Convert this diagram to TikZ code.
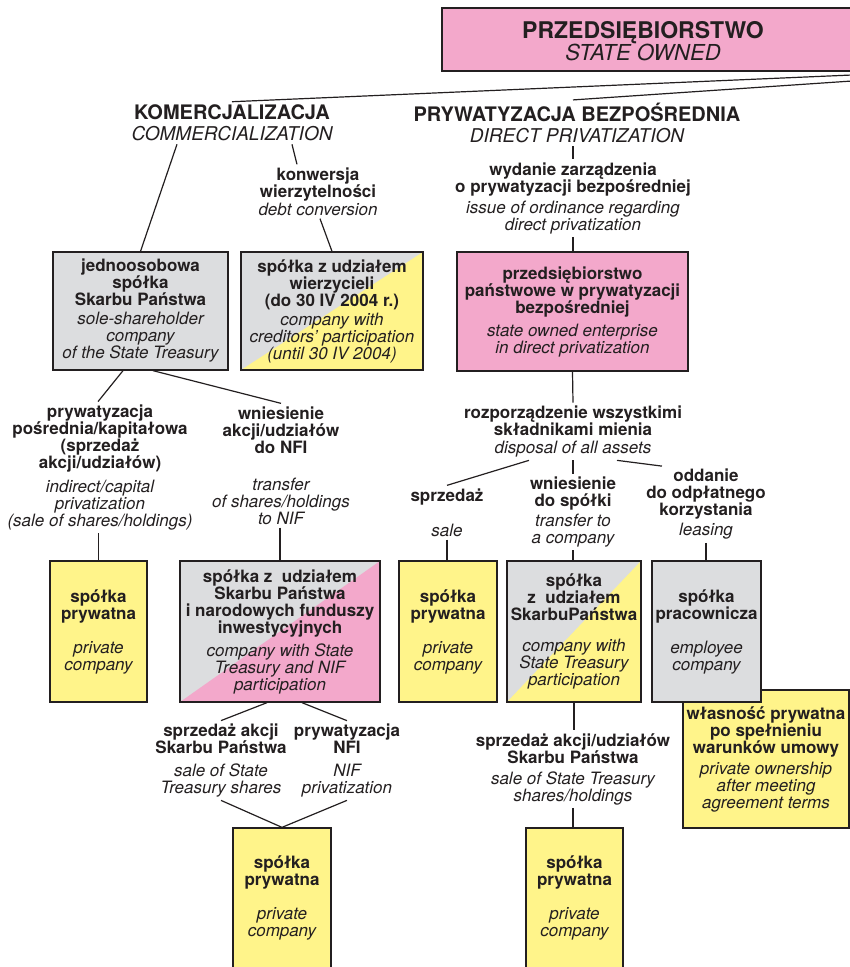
\documentclass[tikz,border=0pt]{standalone}
\usepackage{fontspec}
\setmainfont{TeX Gyre Heros}
\definecolor{ink}{HTML}{231F20}
\definecolor{rozowy}{HTML}{F3A8CB}
\definecolor{zolty}{HTML}{FFF48A}
\definecolor{szary}{HTML}{DCDDDF}
\newcommand{\engl}{\mdseries\itshape}
\newcommand{\engt}{\fontsize{19}{21}\selectfont\mdseries\itshape}
\begin{document}
\begin{tikzpicture}[x=1pt, y=-1pt,
    ramka/.style={draw=ink, line width=1.3pt, inner sep=0pt, align=center, text=ink,
      font=\fontsize{17}{17}\selectfont\bfseries},
    opis/.style={inner sep=3pt, align=center, text=ink, font=\fontsize{17}{17}\selectfont\bfseries},
    tytul/.style={inner sep=3pt, align=center, text=ink, font=\fontsize{20}{21}\selectfont\bfseries},
    linia/.style={draw=ink, line width=1.2pt},
    pol/.style={path picture={\fill[#1] (path picture bounding box.south west) --
      (path picture bounding box.north east) -- (path picture bounding box.south east) -- cycle;}}]
  \useasboundingbox (0,0) rectangle (850,967);
  \clip (0,0) rectangle (850,967);
  % Przedsiebiorstwo
  \node[ramka, fill=rozowy, minimum width=428, minimum height=63] (prz) at (656,39.5) {};
  \node[tytul, font=\fontsize{23}{22}\selectfont\bfseries] (przt) at (643,41) {PRZEDSIĘBIORSTWO\\\fontsize{22}{22}\selectfont\engl STATE OWNED};
  % Komercjalizacja
  \node[tytul] (kom) at (232,123) {KOMERCJALIZACJA\\\engt COMMERCIALIZATION};
  \node[opis] (kon) at (318,191.5) {konwersja\\wierzytelności\\[1pt]\engl debt conversion};
  \node[ramka, fill=szary, minimum width=175, minimum height=118] (jsp) at (140.5,311)
    {jednoosobowa\\spółka\\Skarbu Państwa\\[2pt]\engl sole-shareholder\\\engl company\\\engl of the State Treasury};
  \node[ramka, fill=szary, pol=zolty, minimum width=182, minimum height=118] (wie) at (332,311)
    {spółka z udziałem\\wierzycieli\\(do 30 IV 2004 r.)\\[2pt]\engl company with\\\engl creditors' participation\\\engl (until 30 IV 2004)};
  \node[opis] (prp) at (100,467.5) {prywatyzacja\\pośrednia/kapitałowa\\(sprzedaż\\akcji/udziałów)\\[7pt]\engl indirect/capital\\\engl privatization\\\engl (sale of shares/holdings)};
  \node[opis] (wnnfi) at (281,465.5) {wniesienie\\akcji/udziałów\\do NFI\\[20pt]\engl transfer\\\engl of shares/holdings\\\engl to NIF};
  \node[ramka, fill=zolty, minimum width=97, minimum height=141] (sp1) at (98.5,631.5)
    {spółka\\prywatna\\[17pt]\engl private\\\engl company};
  \node[ramka, fill=szary, pol=rozowy, minimum width=200, minimum height=141] (big) at (280,631.5)
    {spółka z~~udziałem\\Skarbu Państwa\\i narodowych funduszy\\inwestycyjnych\\[6pt]\engl company with State\\\engl Treasury and NIF\\\engl participation};
  \node[opis] (sak) at (221,760.5) {sprzedaż akcji\\Skarbu Państwa\\[6pt]\engl sale of State\\\engl Treasury shares};
  \node[opis] (pnfi) at (347,760.5) {prywatyzacja\\NFI\\[6pt]\engl NIF\\\engl privatization};
  \node[ramka, fill=zolty, minimum width=98, minimum height=140] (bp1) at (282,898)
    {spółka\\prywatna\\[17pt]\engl private\\\engl company};
  % Prywatyzacja bezposrednia
  \node[tytul] (prb) at (577,123) {PRYWATYZACJA BEZPOŚREDNIA\\\engt DIRECT PRIVATIZATION};
  \node[opis] (wyd) at (573,198) {wydanie zarządzenia\\o prywatyzacji bezpośredniej\\[4pt]\engl issue of ordinance regarding\\\engl direct privatization};
  \node[ramka, fill=rozowy, minimum width=231, minimum height=119] (pps) at (572.5,311.5)
    {przedsiębiorstwo\\państwowe w prywatyzacji\\bezpośredniej\\[6pt]\engl state owned enterprise\\\engl in direct privatization};
  \node[opis] (roz) at (573,431.5) {rozporządzenie wszystkimi\\składnikami mienia\\[1pt]\engl disposal of all assets};
  \node[opis] (sprz) at (447,512.5) {sprzedaż\\[18pt]\engl sale};
  \node[opis] (wnsp) at (573,512) {wniesienie\\do spółki\\[3pt]\engl transfer to\\\engl a company};
  \node[opis] (odd) at (706,504.5) {oddanie\\do odpłatnego\\korzystania\\[3pt]\engl leasing};
  \node[ramka, fill=zolty, minimum width=98, minimum height=141] (sp2) at (448,631.5)
    {spółka\\prywatna\\[17pt]\engl private\\\engl company};
  \node[ramka, fill=szary, pol=zolty, minimum width=134, minimum height=141] (ssp) at (574,631.5)
    {spółka\\z~~udziałem\\SkarbuPaństwa\\[14pt]\engl company with\\\engl State Treasury\\\engl participation};
  \node[ramka, fill=zolty, minimum width=166, minimum height=138] (wlas) at (766,759)
    {własność prywatna\\po spełnieniu\\warunków umowy\\[4pt]\engl private ownership\\\engl after meeting\\\engl agreement terms};
  \node[ramka, fill=szary, minimum width=109, minimum height=141] (prac) at (706.5,631.5)
    {spółka\\pracownicza\\[17pt]\engl employee\\\engl company};
  \node[opis] (sau) at (573,769) {sprzedaż akcji/udziałów\\Skarbu Państwa\\[4pt]\engl sale of State Treasury\\\engl shares/holdings};
  \node[ramka, fill=zolty, minimum width=97, minimum height=140] (bp2) at (574.5,898)
    {spółka\\prywatna\\[17pt]\engl private\\\engl company};
  % Polaczenia
  \coordinate (r1) at (852,75);
  \coordinate (r2) at (852,81);
  \draw[linia] (r1) -- (kom.north);
  \draw[linia] (r2) -- ([xshift=-4pt]prb.north);
  \draw[linia] ([xshift=-55pt]kom.south) -- (jsp.north);
  \draw[linia] ([xshift=60pt]kom.south) -- ([xshift=-21pt]kon.north);
  \draw[linia] ([xshift=2pt]kon.south) -- (wie.north);
  \draw[linia] ([xshift=-17.5pt]jsp.south) -- ([xshift=-2pt]prp.north);
  \draw[linia] ([xshift=12.5pt]jsp.south) -- (wnnfi.north);
  \draw[linia] (sp1.north |- prp.south) -- (sp1.north);
  \draw[linia] (big.north |- wnnfi.south) -- (big.north);
  \draw[linia] ([xshift=-13pt]big.south) -- (sak.north);
  \draw[linia] ([xshift=22pt]big.south) -- (pnfi.north);
  \draw[linia] (sak.south) -- (bp1.north);
  \draw[linia] (pnfi.south) -- (bp1.north);
  \draw[linia] (prb.south -| wyd.north) -- (wyd.north);
  \draw[linia] (wyd.south) -- (wyd.south |- pps.north);
  \draw[linia] (pps.south) -- (roz.north);
  \draw[linia] ([xshift=-44pt]roz.south) -- (sprz.north);
  \draw[linia] (roz.south) -- (wnsp.north);
  \draw[linia] ([xshift=44pt]roz.south) -- ([xshift=-44pt]odd.north);
  \draw[linia] (sprz.south) -- (sprz.south |- sp2.north);
  \draw[linia] (wnsp.south) -- (wnsp.south |- ssp.north);
  \draw[linia] (odd.south) -- (odd.south |- prac.north);
  \draw[linia] (ssp.south) -- (ssp.south |- sau.north);
  \draw[linia] (sau.south) -- (sau.south |- bp2.north);
\end{tikzpicture}
\end{document}
